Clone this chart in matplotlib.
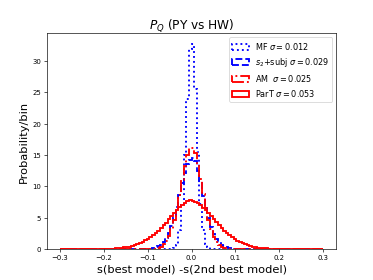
import matplotlib
matplotlib.use("Agg")
import matplotlib.pyplot as plt
import numpy as np

# bin edges of the histograms (100 bins of 0.006 between -0.3 and 0.3)
edges = np.linspace(-0.3, 0.3, 101)

# heights per bin, from left (-0.3) to right (+0.3)
mf = [0, 0, 0, 0, 0, 0, 0, 0, 0, 0,
      0, 0, 0, 0, 0, 0, 0, 0, 0, 0,
      0, 0, 0, 0, 0, 0, 0, 0, 0, 0,
      0, 0, 0, 0, 0, 0, 0, 0, 0, 0,
      0.01, 0.03, 0.08, 0.25, 0.7, 3.0, 7.0, 15.0, 24.0, 32.0,
      32.8, 25.5, 15.5, 7.2, 3.0, 0.8, 0.3, 0.1, 0.04, 0.02,
      0.01, 0, 0, 0, 0, 0, 0, 0, 0, 0,
      0, 0, 0, 0, 0, 0, 0, 0, 0, 0,
      0, 0, 0, 0, 0, 0, 0, 0, 0, 0,
      0, 0, 0, 0, 0, 0, 0, 0, 0, 0]

s2subj = [0, 0, 0, 0, 0, 0, 0, 0, 0, 0,
          0, 0, 0, 0, 0, 0, 0, 0, 0, 0,
          0, 0, 0, 0, 0, 0, 0, 0, 0, 0,
          0.01, 0.02, 0.03, 0.06, 0.1, 0.17, 0.28, 0.45, 0.72, 1.15,
          1.75, 2.6, 3.7, 5.1, 6.8, 8.6, 10.5, 12.2, 13.6, 14.3,
          14.6, 14.0, 12.5, 10.6, 8.5, 6.6, 4.9, 3.5, 2.45, 1.65,
          1.1, 0.7, 0.44, 0.27, 0.16, 0.1, 0.06, 0.03, 0.02, 0.01,
          0, 0, 0, 0, 0, 0, 0, 0, 0, 0,
          0, 0, 0, 0, 0, 0, 0, 0, 0, 0,
          0, 0, 0, 0, 0, 0, 0, 0, 0, 0]

am = [0, 0, 0, 0, 0, 0, 0, 0, 0, 0,
      0, 0, 0, 0, 0, 0, 0, 0, 0, 0,
      0, 0, 0, 0, 0, 0, 0, 0, 0, 0,
      0, 0, 0, 0.01, 0.02, 0.05, 0.11, 0.22, 0.42, 0.75,
      1.3, 2.1, 3.2, 4.6, 6.5, 8.6, 11.0, 13.2, 15.0, 16.2,
      16.2, 15.3, 13.5, 11.2, 8.8, 6.6, 4.7, 3.2, 2.0, 1.2,
      0.7, 0.4, 0.2, 0.1, 0.05, 0.02, 0.01, 0, 0, 0,
      0, 0, 0, 0, 0, 0, 0, 0, 0, 0,
      0, 0, 0, 0, 0, 0, 0, 0, 0, 0,
      0, 0, 0, 0, 0, 0, 0, 0, 0, 0]

part = [0, 0, 0, 0, 0, 0, 0, 0.001, 0.001, 0.002,
        0.003, 0.005, 0.008, 0.01, 0.015, 0.02, 0.03, 0.04, 0.05, 0.07,
        0.09, 0.12, 0.16, 0.21, 0.27, 0.34, 0.42, 0.52, 0.64, 0.78,
        0.95, 1.15, 1.4, 1.65, 1.95, 2.25, 2.6, 2.95, 3.35, 3.8,
        4.25, 4.75, 5.25, 5.75, 6.2, 6.65, 7.0, 7.4, 7.65, 7.8,
        7.7, 7.6, 7.35, 7.0, 6.6, 6.2, 5.8, 5.3, 4.8, 4.3,
        3.85, 3.4, 2.95, 2.55, 2.2, 1.9, 1.6, 1.35, 1.12, 0.93,
        0.77, 0.63, 0.51, 0.41, 0.33, 0.26, 0.2, 0.16, 0.12, 0.09,
        0.07, 0.05, 0.04, 0.03, 0.02, 0.015, 0.01, 0.008, 0.005, 0.003,
        0.002, 0.001, 0.001, 0, 0, 0, 0, 0, 0, 0]

labels = [r'MF $\sigma=0.012$', r'$s_2$+subj $\sigma=0.029$',
          r'AM  $\sigma=0.025$', r'ParT $\sigma=0.053$']

xticks = [-0.3, -0.2, -0.1, 0.0, 0.1, 0.2, 0.3]

centers = 0.5 * (edges[:-1] + edges[1:])

fig, ax = plt.subplots(figsize=(6.4, 4.8), dpi=58.4)

ax.hist(centers, bins=edges, weights=mf, histtype='step', color='blue', linestyle=':', linewidth=2.3, label=labels[0])
ax.hist(centers, bins=edges, weights=s2subj, histtype='step', color='blue', linestyle='--', linewidth=2.3, label=labels[1])
ax.hist(centers, bins=edges, weights=am, histtype='step', color='red', linestyle='-.', linewidth=2.3, label=labels[2])
ax.hist(centers, bins=edges, weights=part, histtype='step', color='red', linestyle='-', linewidth=2.3, label=labels[3])

ax.set_xticks(xticks)
ax.set_title(r'$P_Q$ (PY vs HW)', fontsize=15)
ax.set_xlabel('s(best model) -s(2nd best model)', fontsize=14)
ax.set_ylabel('Probability/bin', fontsize=14)
ax.tick_params(labelsize=8.5)
ax.legend(loc='upper right')

fig.savefig('out.png', dpi=58.4)
